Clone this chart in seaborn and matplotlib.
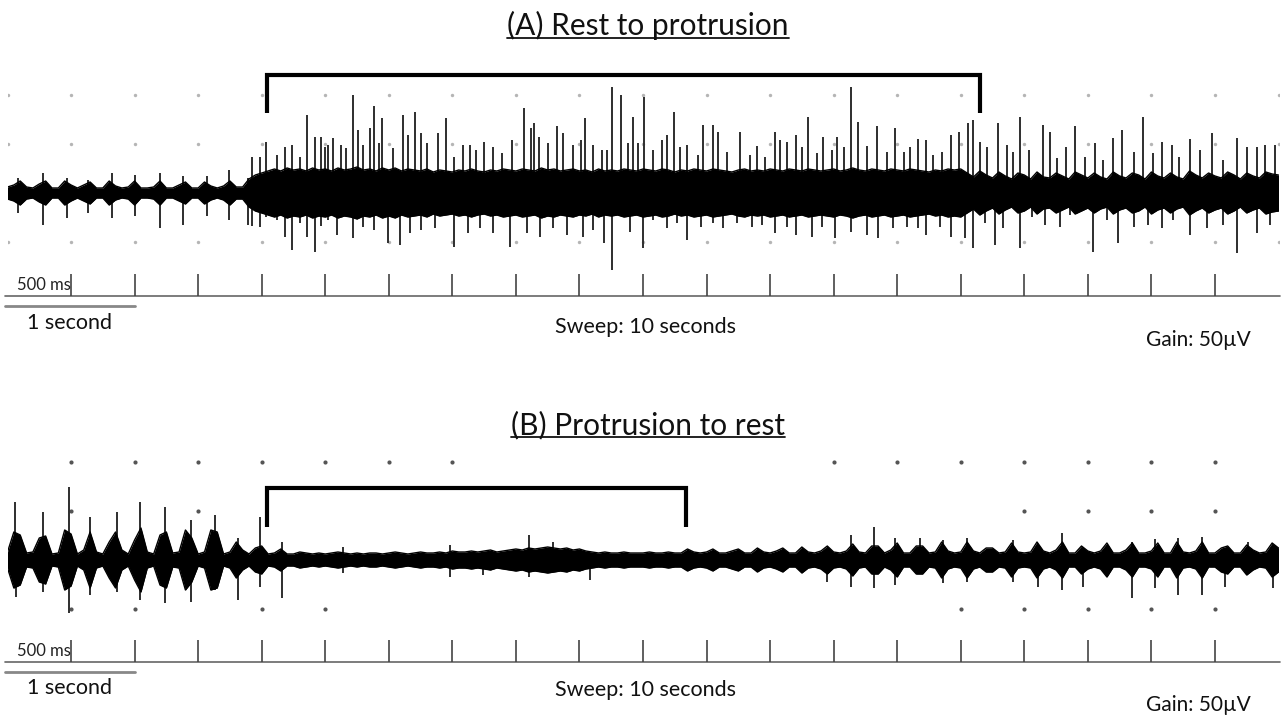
import numpy as np
import pandas as pd
import matplotlib
matplotlib.use("Agg")
import matplotlib.pyplot as plt
import seaborn as sns
from matplotlib.lines import Line2D

sns.set_theme(style="white")
plt.rcParams["font.family"] = ["Lato", "DejaVu Sans"]

# ---------------- data (time in s, amplitude in µV ~ 50 µV per division) -------------
sweep_s = 10.0
tick_times = [0.5 * k for k in range(1, 20)]
grid_rows = [98, 49, -49]
# visible grid dots per row (times in s)
a_dot_times = [[0.5 * k for k in range(0, 21)]] * 3
b_dot_times = [[0.5, 1.0, 1.5, 2.0, 2.5, 3.0, 3.5, 6.5, 7.0, 7.5, 8.0, 8.5, 9.0, 9.5],
               [0.5, 1.5, 8.0, 8.5, 9.0, 9.5],
               [0.5, 1.0, 2.0, 2.5, 7.5, 8.0, 8.5, 9.0, 9.5]]

t_core = np.round(np.arange(201) * 0.05, 2)

# Panel A: dense core half-width sampled every 50 ms
a_core = [6, 8, 12, 6, 5, 9, 12, 5, 5, 12,
          8, 5, 8, 11, 5, 5, 12, 7, 5, 6,
          12, 5, 5, 6, 12, 5, 5, 8, 11, 5,
          5, 11, 7, 5, 7, 12, 6, 6, 14, 18,
          20, 22, 24, 22, 25, 23, 24, 22, 25, 23,
          24, 22, 25, 23, 24, 26, 23, 24, 22, 25,
          23, 25, 22, 24, 23, 22, 24, 21, 23, 22,
          21, 23, 22, 24, 22, 21, 23, 22, 24, 23,
          22, 24, 23, 22, 25, 23, 24, 22, 23, 24,
          22, 23, 21, 24, 22, 23, 22, 24, 23, 22,
          24, 23, 22, 24, 23, 21, 23, 22, 24, 23,
          22, 24, 23, 22, 21, 23, 24, 22, 23, 22,
          24, 23, 22, 24, 23, 22, 24, 23, 22, 23,
          24, 22, 23, 25, 23, 22, 24, 23, 22, 24,
          23, 22, 24, 23, 22, 21, 23, 22, 24, 23,
          24, 20, 16, 22, 18, 15, 21, 17, 14, 20,
          18, 14, 21, 16, 15, 20, 17, 14, 21, 18,
          15, 20, 16, 14, 21, 17, 15, 20, 18, 14,
          21, 17, 15, 20, 16, 14, 22, 18, 15, 20,
          17, 15, 21, 18, 14, 20, 17, 15, 21, 19, 18]

a_up_t = [0.08, 0.28, 0.47, 0.63, 0.82, 1.00, 1.20, 1.38, 1.57, 1.74, 1.89, 1.92,
          1.99, 2.03, 2.12, 2.18, 2.24, 2.30, 2.36, 2.42, 2.47, 2.50, 2.52, 2.56, 2.62,
          2.66, 2.72, 2.76, 2.80, 2.85, 2.88, 2.92, 2.95, 3.03, 3.11, 3.15, 3.21, 3.25,
          3.30, 3.39, 3.45, 3.51, 3.58, 3.64, 3.69, 3.75, 3.82, 3.89, 3.97, 4.06, 4.12,
          4.14, 4.18, 4.25, 4.32, 4.37, 4.45, 4.51, 4.54, 4.61, 4.68, 4.72, 4.76, 4.83,
          4.88, 4.92, 4.96, 5.01, 5.08, 5.15, 5.19, 5.24, 5.29, 5.35, 5.43, 5.47, 5.55,
          5.59, 5.66, 5.76, 5.84, 5.90, 5.96, 6.04, 6.08, 6.13, 6.20, 6.25, 6.30, 6.37,
          6.42, 6.49, 6.53, 6.58, 6.64, 6.69, 6.76, 6.84, 6.92, 6.98, 7.05, 7.10, 7.16,
          7.23, 7.28, 7.35, 7.42, 7.49, 7.56, 7.60, 7.65, 7.71, 7.79, 7.86, 7.91, 7.97,
          8.04, 8.15, 8.20, 8.26, 8.33, 8.40, 8.48, 8.56, 8.62, 8.70, 8.77, 8.86, 8.93,
          9.01, 9.08, 9.16, 9.22, 9.30, 9.38, 9.48, 9.56, 9.67, 9.75, 9.83, 9.89, 9.97]
a_up_v = [15, 20, 15, 13, 20, 18, 20, 17, 17, 23, 15, 36,
          36, 51, 38, 46, 48, 36, 78, 56, 56, 46, 48, 55, 48,
          45, 98, 63, 48, 65, 87, 50, 75, 45, 78, 58, 81, 60,
          50, 60, 75, 36, 48, 48, 43, 51, 46, 40, 53, 85, 65,
          70, 56, 50, 67, 60, 48, 53, 75, 48, 43, 43, 106, 98,
          50, 76, 50, 96, 43, 53, 58, 81, 46, 48, 38, 68, 68,
          61, 41, 61, 38, 47, 36, 61, 53, 51, 58, 46, 76, 40,
          56, 43, 56, 46, 106, 71, 47, 67, 41, 65, 41, 46, 54,
          53, 38, 41, 58, 61, 70, 73, 51, 46, 70, 48, 41, 76,
          43, 68, 61, 35, 46, 67, 36, 50, 33, 55, 63, 41, 76,
          40, 51, 48, 36, 54, 43, 60, 33, 55, 46, 46, 48, 48]
a_dn_t = [0.08, 0.28, 0.47, 0.63, 0.82, 1.00, 1.20, 1.38, 1.57, 1.74, 1.89, 1.92,
          1.99, 2.03, 2.12, 2.18, 2.24, 2.30, 2.36, 2.42, 2.47, 2.52, 2.59, 2.72, 2.80,
          2.88, 2.99, 3.09, 3.17, 3.25, 3.36, 3.51, 3.62, 3.72, 3.82, 3.95, 4.09, 4.19,
          4.29, 4.40, 4.53, 4.61, 4.69, 4.76, 4.90, 5.00, 5.08, 5.19, 5.27, 5.35, 5.46,
          5.55, 5.63, 5.74, 5.86, 5.94, 6.04, 6.13, 6.20, 6.33, 6.41, 6.51, 6.64, 6.76,
          6.85, 6.97, 7.08, 7.16, 7.23, 7.34, 7.42, 7.53, 7.60, 7.69, 7.77, 7.83, 7.97,
          8.06, 8.16, 8.28, 8.36, 8.54, 8.65, 8.74, 8.86, 8.97, 9.08, 9.17, 9.30, 9.44,
          9.56, 9.67, 9.83, 9.93]
a_dn_v = [20, 32, 25, 20, 25, 23, 35, 32, 23, 27, 32, 33,
          34, 24, 27, 44, 57, 30, 44, 59, 33, 27, 42, 45, 34,
          37, 50, 52, 40, 37, 35, 54, 40, 35, 40, 54, 40, 44,
          35, 42, 44, 37, 50, 77, 39, 55, 27, 35, 30, 47, 34,
          30, 35, 30, 34, 32, 40, 34, 42, 44, 34, 45, 39, 42,
          45, 35, 34, 35, 42, 34, 44, 45, 55, 30, 52, 35, 55,
          24, 32, 34, 22, 59, 27, 50, 34, 32, 35, 27, 42, 35,
          32, 60, 40, 32]

# Panel B
b_core = [8, 28, 25, 7, 8, 22, 24, 6, 7, 30,
          26, 6, 10, 28, 8, 6, 18, 28, 10, 6,
          20, 32, 8, 6, 25, 28, 7, 8, 30, 22,
          6, 8, 30, 28, 6, 8, 18, 10, 6, 12,
          14, 6, 7, 11, 6, 6, 8, 7, 6, 7,
          6, 7, 8, 7, 6, 7, 6, 7, 7, 6,
          7, 8, 7, 6, 7, 8, 7, 7, 8, 7,
          9, 8, 8, 9, 8, 9, 10, 8, 9, 10,
          11, 10, 12, 11, 12, 13, 12, 11, 12, 10,
          11, 9, 8, 7, 8, 7, 7, 8, 7, 7,
          7, 8, 7, 7, 8, 7, 7, 11, 8, 7,
          8, 11, 7, 7, 9, 11, 7, 7, 12, 8,
          7, 9, 12, 7, 7, 13, 8, 7, 9, 14,
          8, 7, 9, 16, 8, 7, 14, 14, 7, 10,
          17, 7, 7, 14, 14, 7, 8, 18, 9, 7,
          8, 18, 9, 7, 12, 12, 7, 8, 17, 8,
          7, 8, 18, 9, 7, 10, 18, 7, 7, 14,
          9, 7, 9, 17, 7, 7, 10, 17, 7, 7,
          9, 17, 7, 7, 18, 8, 7, 9, 18, 7,
          7, 12, 14, 7, 7, 15, 10, 7, 8, 17, 12]
b_up_t = [0.06, 0.28, 0.48, 0.65, 0.86, 1.04, 1.24, 1.44, 1.63, 1.81, 1.99, 2.16,
          2.64, 3.48, 4.10, 4.29, 6.64, 6.82, 6.98, 7.18, 7.36, 7.55, 7.91, 8.30,
          8.85, 9.03, 9.21, 9.40, 9.76]
b_up_v = [58, 48, 73, 43, 48, 58, 53, 40, 45, 22, 43, 18,
          13, 15, 25, 18, 25, 33, 22, 22, 20, 22, 20, 27,
          18, 21, 22, 23, 18]
b_dn_t = [0.07, 0.28, 0.48, 0.65, 0.86, 1.04, 1.24, 1.44, 1.63, 1.81, 1.99, 2.16,
          2.64, 3.48, 3.74, 4.10, 4.58, 6.45, 6.64, 6.82, 6.98, 7.36, 7.55, 7.91,
          8.11, 8.30, 8.46, 8.85, 9.03, 9.21, 9.40, 9.58, 9.96]
b_dn_v = [37, 32, 53, 35, 32, 40, 43, 42, 30, 40, 27, 38,
          13, 17, 15, 17, 20, 22, 27, 28, 25, 23, 22, 22,
          27, 30, 27, 38, 28, 35, 35, 27, 28]

bracket_a = (2.04, 7.65)
bracket_b = (2.04, 5.34)
titles = ["(A) Rest to protrusion", "(B) Protrusion to rest"]

# ---------------- figure -------------------------------------------------------
W, H = 1282, 715
fig = plt.figure(figsize=(W / 100, H / 100), dpi=100)


def px_axes(top, bottom):
    return fig.add_axes([7.5 / W, 1 - bottom / H, 1271 / W, (bottom - top) / H])


axA = px_axes(0, 357)
axA.set_xlim(0, sweep_s)
axA.set_ylim(-164, 193)
axB = px_axes(357, 715)
axB.set_xlim(0, sweep_s)
axB.set_ylim(-155, 203)


def draw_panel(ax, core, up_t, up_v, dn_t, dn_v, dot_times, dot_color, dot_size,
               bracket, br_top, br_bot, title, title_y, axis_y, labels_y):
    # dotted grid
    g = pd.DataFrame([(t, r) for r, ts in zip(grid_rows, dot_times) for t in ts],
                     columns=["t", "v"])
    sns.scatterplot(data=g, x="t", y="v", ax=ax, color=dot_color, s=dot_size,
                    linewidth=0, zorder=1, legend=False)
    # signal
    df = pd.DataFrame({"t": t_core, "hi": np.array(core), "lo": -np.array(core)})
    ax.vlines(up_t, 0, up_v, color="#2e2e2e", lw=1.4, zorder=2)
    ax.vlines(dn_t, -np.array(dn_v), 0, color="#2e2e2e", lw=1.4, zorder=2)
    ax.fill_between(df["t"], df["lo"], df["hi"], color="black", lw=0, zorder=3)
    sns.lineplot(data=df, x="t", y="hi", ax=ax, color="black", lw=1.0, zorder=3)
    sns.lineplot(data=df, x="t", y="lo", ax=ax, color="black", lw=1.0, zorder=3)
    # bracket
    ax.plot([bracket[0], bracket[0], bracket[1], bracket[1]],
            [br_bot, br_top, br_top, br_bot], color="black", lw=3.0,
            solid_joinstyle="miter", solid_capstyle="butt", zorder=4)
    # time axis
    ax.plot([-0.02, 10.01], [axis_y, axis_y], color="#666666", lw=1.2, clip_on=False)
    ax.vlines(tick_times, axis_y, axis_y + 22, color="#444444", lw=1.2)
    ax.plot([-0.02, 1.0], [axis_y - 10, axis_y - 10], color="#888888", lw=2.0, clip_on=False)
    ax.text(0.075, axis_y + 11, "500 ms", fontsize=12, ha="left", va="center", color="#222222")
    ax.text(0.49, labels_y[0], "1 second", fontsize=15.5, ha="center", va="center", color="#111111")
    ax.text(5.02, labels_y[1], "Sweep: 10 seconds", fontsize=15.5, ha="center", va="center", color="#111111")
    ax.text(9.37, labels_y[2], "Gain: 50µV", fontsize=15, ha="center", va="center", color="#111111")
    txt = ax.text(5.04, title_y, title, fontsize=21.5, ha="center", va="center", color="#111111")
    ax.set_axis_off()
    return txt


tA = draw_panel(axA, a_core, a_up_t, a_up_v, a_dn_t, a_dn_v, a_dot_times, "#b5b5b5", 6,
                bracket_a, 118, 80, titles[0], 168, -103, (-130, -134, -147))
tB = draw_panel(axB, b_core, b_up_t, b_up_v, b_dn_t, b_dn_v, b_dot_times, "#555555", 9,
                bracket_b, 72, 33, titles[1], 135, -102, (-128, -130, -145))

# underline titles
fig.canvas.draw()
r = fig.canvas.get_renderer()
for t in (tA, tB):
    bb = t.get_window_extent(renderer=r)
    y = bb.y0 + 2
    fig.add_artist(Line2D([bb.x0 / W, bb.x1 / W], [y / H, y / H], color="#111111", lw=1.3))

fig.savefig("out.png", dpi=100)
